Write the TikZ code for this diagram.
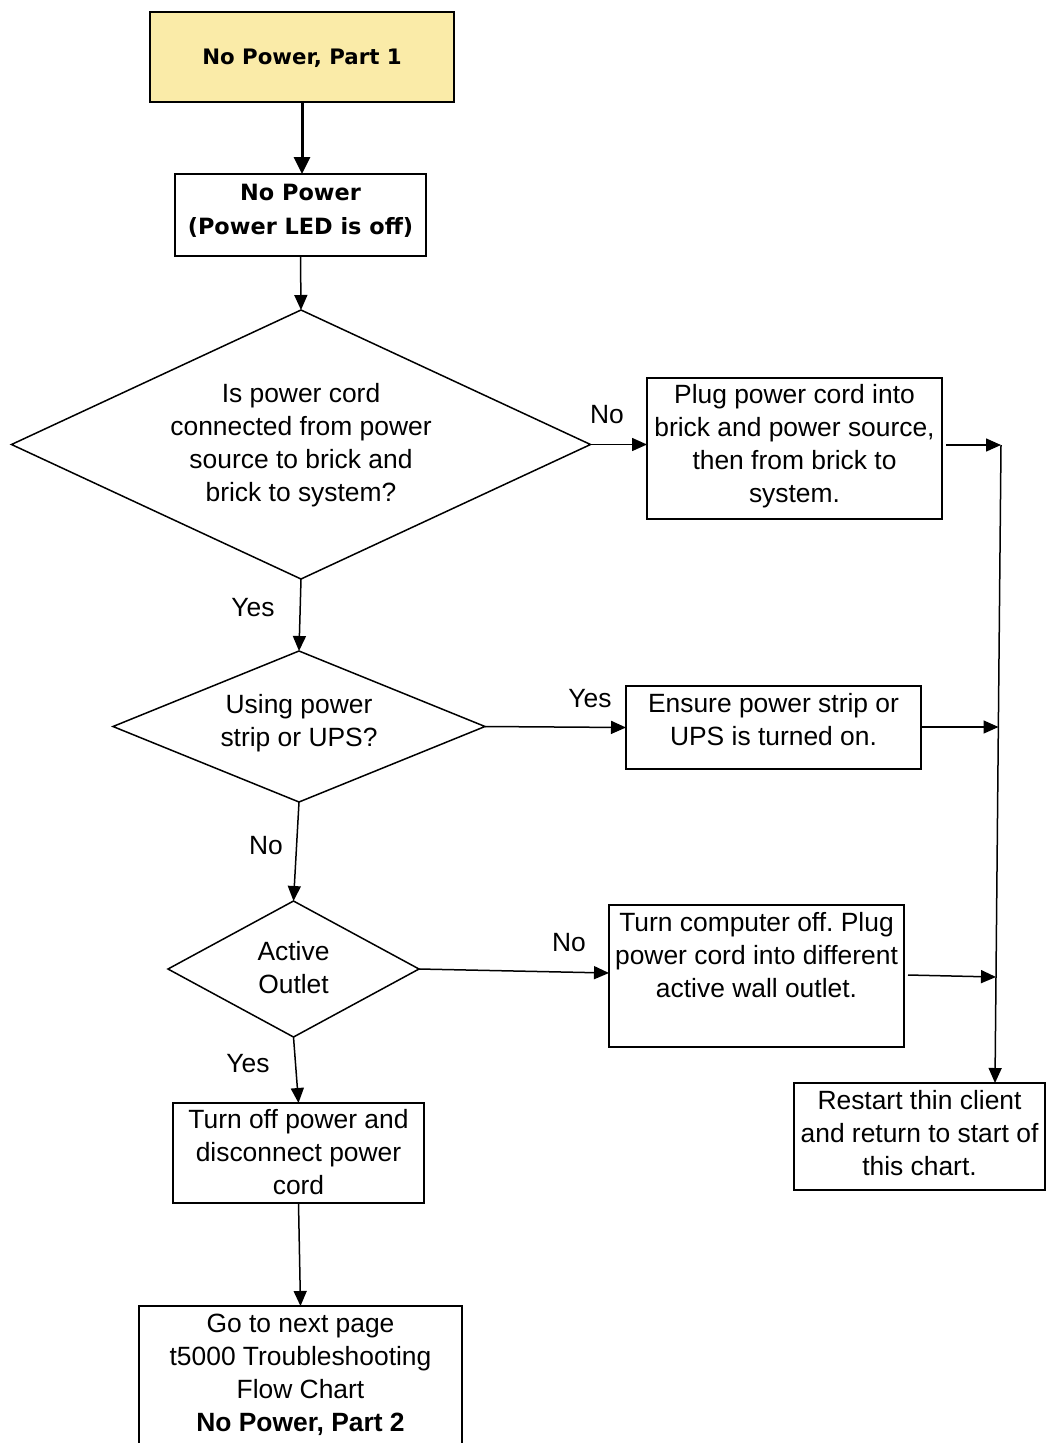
\documentclass[tikz,border=0pt]{standalone}
\usepackage{fontspec}
\setmainfont{Liberation Sans}
\newfontfamily\vfont{DejaVu Sans}
\usetikzlibrary{arrows.meta,shapes.geometric,calc}
\definecolor{titlefill}{RGB}{250,235,168}
\frenchspacing
\tikzset{
  box/.style={draw, line width=1.5pt, inner sep=0pt, outer sep=0pt},
  dia/.style={draw, diamond, line width=1.5pt, inner sep=0pt, outer sep=0pt},
  txt/.style={font=\fontsize{26.4}{33}\selectfont, align=center, inner sep=0pt},
  lab/.style={font=\fontsize{26.4}{33}\selectfont, inner sep=0pt},
  arr/.style={-{Triangle[length=15pt,width=13pt]}, line width=1.5pt},
  thickarr/.style={-{Triangle[length=17pt,width=16pt]}, line width=3pt}
}
\begin{document}
\begin{tikzpicture}[x=1pt,y=-1pt]
\useasboundingbox[fill=white] (0,0) rectangle (1049,1443);

% boxes
\node[box, fill=titlefill, minimum width=304pt, minimum height=90pt] (top) at (302,57) {};
\node[font=\vfont\bfseries\fontsize{21.3}{30}\selectfont, inner sep=0pt] (topt) at (302,58) {No Power, Part 1};

\node[box, minimum width=251pt, minimum height=82pt] (np) at (300.5,215) {};
\node[font=\vfont\bfseries\fontsize{22.4}{34}\selectfont, align=center, inner sep=0pt] (npt) at (300.5,211) {No Power\\(Power LED is off)};

\node[dia, minimum width=579pt, minimum height=269pt] (d1) at (301,444.5) {};
\node[txt] (d1t) at (301,445) {Is power cord\\connected from power\\source to brick and\\brick to system?};

\node[box, minimum width=295pt, minimum height=141pt] (b3) at (794.5,448.5) {};
\node[txt] (b3t) at (794.5,446) {Plug power cord into\\brick and power source,\\then from brick to\\system.};

\node[dia, minimum width=372pt, minimum height=151pt] (d2) at (299,726.5) {};
\node[txt] (d2t) at (299,723) {Using power\\strip or UPS?};

\node[box, minimum width=295pt, minimum height=83pt] (b4) at (773.5,727.5) {};
\node[txt] (b4t) at (773.5,720) {Ensure power strip or\\UPS is turned on.};

\node[dia, minimum width=251pt, minimum height=136pt] (d3) at (293.5,969) {};
\node[txt] (d3t) at (293.5,968) {Active\\Outlet};

\node[box, minimum width=295pt, minimum height=142pt] (b5) at (756.5,976) {};
\node[txt] (b5t) at (756.5,955) {Turn computer off. Plug\\power cord into different\\active wall outlet.};

\node[box, minimum width=251pt, minimum height=107pt] (b6) at (919.5,1136.5) {};
\node[txt] (b6t) at (919.5,1133) {Restart thin client\\and return to start of\\this chart.};

\node[box, minimum width=251pt, minimum height=100pt] (b7) at (298.5,1153) {};
\node[txt] (b7t) at (298.5,1152) {Turn off power and\\disconnect power\\cord};

\node[box, minimum width=323pt, minimum height=160pt] (b8) at (300.5,1386) {};
\node[txt] (b8t) at (300.5,1375) {Go to next page\\t5000 Troubleshooting\\Flow Chart\\\textbf{No Power, Part 2}};

% junction points on the collecting line
\coordinate (j1) at (1001,445);
\coordinate (j2) at (998.5,727);
\coordinate (j3) at (996,977);
\coordinate (jend) at (995,1083);

% labels
\node[lab] (l1) at (607,415) {No};
\node[lab] (l2) at (253,608) {Yes};
\node[lab] (l3) at (590,699) {Yes};
\node[lab] (l4) at (266,846) {No};
\node[lab] (l5) at (569,943) {No};
\node[lab] (l6) at (248,1064) {Yes};

% connectors
\draw[thickarr] (top.south) -- (top.south |- np.north);
\draw[arr] (np.south) -- (d1.north);
\draw[arr] (d1.east) -- (b3.west |- d1.east);
\draw[arr] ($(b3.east |- j1)+(4,0)$) -- (j1);
\draw[arr] (d1.south) -- (d2.north);
\draw[arr] (d2.east) -- (b4.west);
\draw[arr] ($(b4.east |- j2)+(1,0)$) -- (j2);
\draw[arr] (d2.south) -- (d3.north);
\draw[arr] (d3.east) -- ($(b5.west)+(0,-3)$);
\draw[arr] ($(b5.east)+(4,-1)$) -- (j3);
\draw[arr] (j1) -- (jend);
\draw[arr] (d3.south) -- (b7.north);
\draw[arr] (b7.south) -- (b8.north);
\end{tikzpicture}
\end{document}
